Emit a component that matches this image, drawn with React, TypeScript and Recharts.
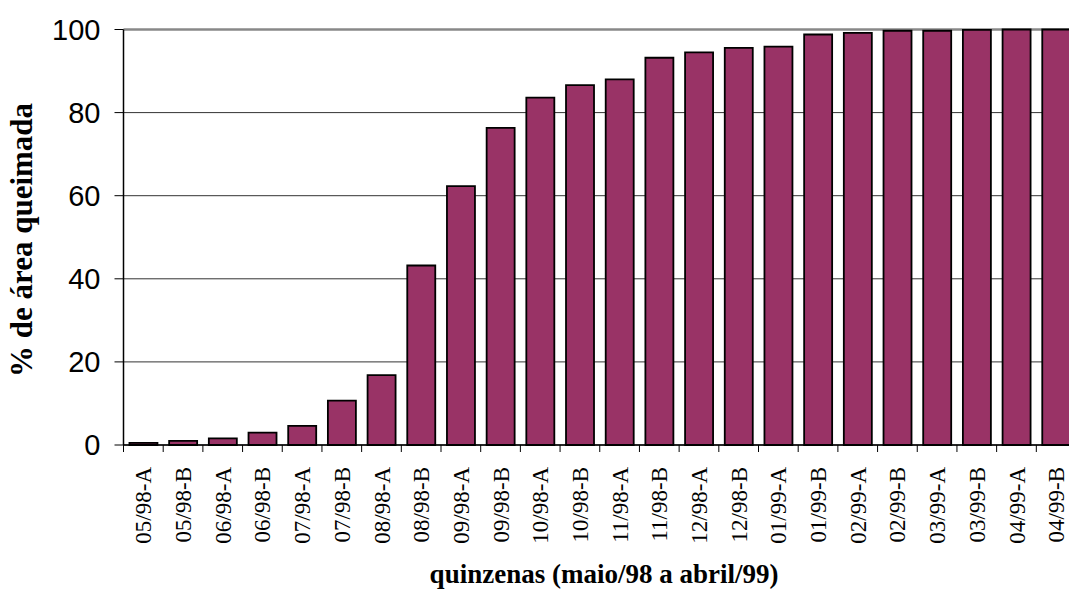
import React from "react";
import { BarChart, Bar, XAxis, YAxis, CartesianGrid } from "recharts";

const periods = [
  "05/98-A", "05/98-B", "06/98-A", "06/98-B", "07/98-A", "07/98-B",
  "08/98-A", "08/98-B", "09/98-A", "09/98-B", "10/98-A", "10/98-B",
  "11/98-A", "11/98-B", "12/98-A", "12/98-B", "01/99-A", "01/99-B",
  "02/99-A", "02/99-B", "03/99-A", "03/99-B", "04/99-A", "04/99-B",
];
const burned = [
  0.5, 1.0, 1.6, 3.0, 4.6, 10.7, 16.8, 43.2, 62.3, 76.3, 83.6, 86.6,
  88.0, 93.2, 94.5, 95.6, 95.9, 98.8, 99.2, 99.7, 99.7, 99.9, 100, 100,
];
const yTicks = [0, 20, 40, 60, 80, 100];

const data = periods.map((p, i) => ({ period: p, burned: burned[i] }));

const W = 1080;
const H = 589;
const yAxisW = 63.5;
const xAxisH = 100;
const margin = { top: 29.5, right: 4, left: 60, bottom: 44 };
const band = (W - margin.left - yAxisW - margin.right) / periods.length;

function PeriodTick(props: any) {
  const { x, y, payload } = props;
  const left = x - band / 2;
  return (
    <g>
      <line x1={left} y1={y} x2={left} y2={y + 7} stroke="#000" strokeWidth={1} />
      <text
        x={x}
        y={y + 22}
        transform={`rotate(-90, ${x}, ${y + 22})`}
        textAnchor="end"
        dy="0.35em"
        fontFamily="'Liberation Serif', 'Times New Roman', serif"
        fontSize={23}
        fill="#000"
      >
        {payload.value}
      </text>
    </g>
  );
}

function gridLine(props: any) {
  const { x1, x2, y1, y2 } = props;
  const top = y1 < margin.top + 2;
  return (
    <line
      key={props.key ?? `g-${y1}`}
      x1={x1}
      x2={x2 + 10}
      y1={y1}
      y2={y2}
      stroke={top ? "#888" : "#333"}
      strokeWidth={top ? 2.5 : 1}
    />
  );
}

export default function App() {
  return (
    <div style={{ position: "absolute", left: 0, top: 0, width: 1069, height: H, overflow: "hidden", background: "#fff" }}>
      <BarChart width={W} height={H} data={data} margin={margin} barCategoryGap="15%">
        <CartesianGrid vertical={false} horizontal={gridLine} />
        <XAxis
          dataKey="period"
          height={xAxisH}
          interval={0}
          tickSize={0}
          tickMargin={0}
          tickLine={false}
          axisLine={{ stroke: "#000", strokeWidth: 1.5 }}
          tick={<PeriodTick />}
        />
        <YAxis
          width={yAxisW}
          domain={[0, 100]}
          ticks={yTicks}
          interval={0}
          tickSize={9}
          tickMargin={14}
          axisLine={{ stroke: "#000", strokeWidth: 1.5 }}
          tickLine={{ stroke: "#000", strokeWidth: 1 }}
          tick={{ fill: "#000", fontSize: 29, fontFamily: "'Liberation Sans', Arial, sans-serif" }}
        />
        <Bar dataKey="burned" fill="#993366" stroke="#000" strokeWidth={1.8} isAnimationActive={false} />
      </BarChart>
      <svg width={1069} height={H} style={{ position: "absolute", left: 0, top: 0, pointerEvents: "none" }}>
        <text
          x={21.5}
          y={240}
          transform="rotate(-90, 21.5, 240)"
          textAnchor="middle"
          dy="0.35em"
          fontFamily="'Liberation Serif', 'Times New Roman', serif"
          fontWeight="bold"
          fontSize={31}
          fill="#000"
        >
          % de área queimada
        </text>
        <text
          x={604}
          y={583}
          textAnchor="middle"
          fontFamily="'Liberation Serif', 'Times New Roman', serif"
          fontWeight="bold"
          fontSize={27}
          fill="#000"
        >
          quinzenas (maio/98 a abril/99)
        </text>
      </svg>
    </div>
  );
}
